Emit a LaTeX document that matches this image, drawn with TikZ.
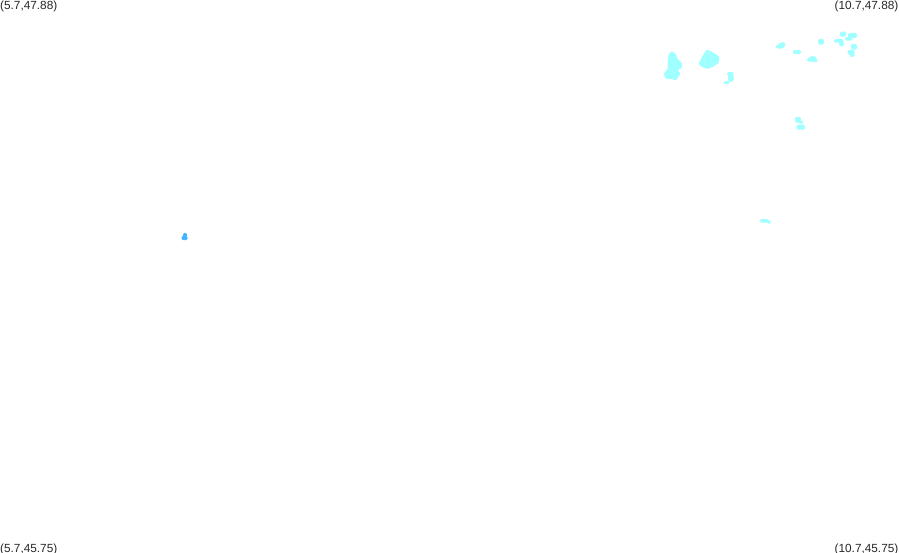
\documentclass[tikz,border=0pt]{standalone}
\usepackage{fontspec}
\setmainfont{Liberation Sans}
\definecolor{paleblob}{HTML}{A0FFFF}
\definecolor{deepblob}{HTML}{40B4FF}
\tikzset{
  cornerlabel/.style={inner sep=0pt,font=\fontsize{11.8}{13}\selectfont,text=black!85},
  pale/.style={fill=paleblob,draw=paleblob,line width=1pt,rounded corners=1pt},
  deep/.style={fill=deepblob,draw=deepblob,line width=1pt,rounded corners=1pt}
}
\begin{document}
\begin{tikzpicture}[x=1pt,y=-1pt]
\useasboundingbox (0,0) rectangle (899,552);
\clip (0,0) rectangle (899,552);
% large blobs
\filldraw[pale] (671.7,52) -- (675,53.5) -- (677,59) -- (682,64) -- (681,68) -- (677,70) -- (680,74) -- (678,76) -- (676,80) -- (671,78) -- (668,79) -- (665,77) -- (664.5,73) -- (668,70) -- (668,63) -- (669,55) -- cycle;
\filldraw[pale] (706.7,50) -- (713,53) -- (719,57) -- (718,63) -- (713,66) -- (708,68.5) -- (703,67) -- (699,64) -- (702,58) -- (705,53) -- cycle;
\filldraw[pale] (727.5,72.5) rectangle (733,75);
\filldraw[pale] (728.5,75) rectangle (733,81);
\filldraw[pale] (724.5,81.5) rectangle (729,83.5);
% upper right group
\filldraw[pale] (775.7,46.7) -- (780,44) -- (781.7,42.5) -- (785,43) -- (784,47) -- (779,48.5) -- cycle;
\filldraw[pale] (793.5,50.5) rectangle (800.5,53.5);
\filldraw[pale] (807.5,59.5) -- (811.7,56.5) -- (815,57) -- (817.5,61.5) -- (808.3,61) -- cycle;
\filldraw[pale] (818.5,39.5) rectangle (823.5,44);
\filldraw[pale] (834.5,39.5) rectangle (843,42);
\filldraw[pale] (839.5,42) rectangle (843.5,45.5);
\filldraw[pale] (840.5,32) rectangle (845.5,36);
\filldraw[pale] (848.5,33.5) rectangle (856.5,37.5);
\filldraw[pale] (845.5,37.5) rectangle (852,40);
\filldraw[pale] (851.5,44.5) rectangle (856.5,49);
\filldraw[pale] (848,50.5) rectangle (854,54);
\filldraw[pale] (850.5,54) rectangle (854,56.5);
% lower small blobs
\filldraw[pale] (795.5,117.5) rectangle (800.5,122);
\filldraw[pale] (799.5,121.5) rectangle (802.5,123);
\filldraw[pale] (797,125) rectangle (804.5,129);
\filldraw[pale] (760.5,219.5) rectangle (768,222);
\filldraw[pale] (767.5,221) rectangle (770.5,223);
% blue blob
\filldraw[deep] (183.5,233.5) rectangle (186.5,236.5);
\filldraw[deep] (182,236.5) rectangle (187,239.5);
% corner labels
\node[cornerlabel,anchor=base west] (tl) at (0,9.3) {(5.7,47.88)};
\node[cornerlabel,anchor=base east] (tr) at (898.5,9.3) {(10.7,47.88)};
\node[cornerlabel,anchor=base west] (bl) at (0,552.5) {(5.7,45.75)};
\node[cornerlabel,anchor=base east] (br) at (898.5,552.5) {(10.7,45.75)};
\end{tikzpicture}
\end{document}
